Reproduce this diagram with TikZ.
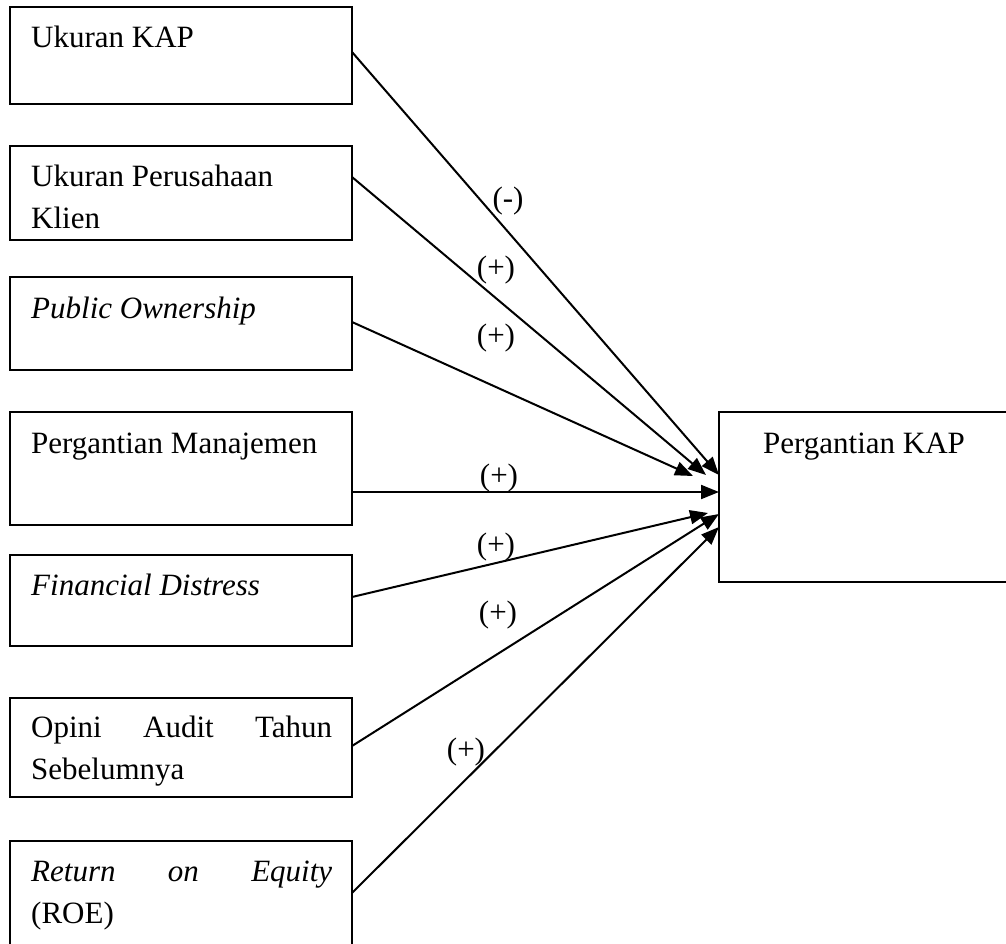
\documentclass[tikz,border=0pt]{standalone}
\usepackage{fontspec}
\setmainfont{Liberation Serif}
\usetikzlibrary{arrows.meta}
\begin{document}
\begin{tikzpicture}[x=1pt,y=-1pt,
  box/.style={draw, line width=2pt, inner sep=0pt, outer sep=0pt, anchor=north west},
  lbl/.style={inner sep=0pt, font=\fontsize{31}{42}\selectfont, anchor=base west},
  sign/.style={inner sep=0pt, font=\fontsize{31}{42}\selectfont, anchor=center},
  arr/.style={line width=2pt, -{Triangle[length=18pt,width=14pt]}}]
\useasboundingbox (0,0) rectangle (1006,944);
\clip (0,0) rectangle (1006,944);
% boxes
\node[box, minimum width=342pt, minimum height=97pt]  (b1) at (10,7) {};
\node[box, minimum width=342pt, minimum height=94pt]  (b2) at (10,146) {};
\node[box, minimum width=342pt, minimum height=93pt]  (b3) at (10,277) {};
\node[box, minimum width=342pt, minimum height=113pt] (b4) at (10,412) {};
\node[box, minimum width=342pt, minimum height=91pt]  (b5) at (10,555) {};
\node[box, minimum width=342pt, minimum height=99pt]  (b6) at (10,698) {};
\node[box, minimum width=342pt, minimum height=120pt] (b7) at (10,841) {};
\node[box, minimum width=300pt, minimum height=170pt] (r) at (719,412) {};
% texts
\node[lbl] (t1) at (31,48) {Ukuran KAP};
\node[lbl] (t2a) at (31,186) {Ukuran Perusahaan};
\node[lbl] (t2b) at (31,228) {Klien};
\node[lbl] (t3) at (31,318) {\itshape Public Ownership};
\node[lbl] (t4) at (31,453) {Pergantian Manajemen};
\node[lbl] (t5) at (31,595) {\itshape Financial Distress};
\node[lbl] (t6a) at (31,737) {\makebox[301pt][s]{Opini Audit Tahun}};
\node[lbl] (t6b) at (31,779) {Sebelumnya};
\node[lbl] (t7a) at (31,881) {\makebox[301pt][s]{\itshape Return on Equity}};
\node[lbl] (t7b) at (31,923) {(ROE)};
\node[lbl] (tr) at (763,453) {Pergantian KAP};
% connector ends
\coordinate (s1) at (352,52);
\coordinate (s2) at (352,177);
\coordinate (s3) at (352,322);
\coordinate (s4) at (352,492);
\coordinate (s5) at (352,597);
\coordinate (s6) at (352,746);
\coordinate (s7) at (352,893);
\coordinate (e1) at (719,475);
\coordinate (e2) at (706,475);
\coordinate (e3) at (693,476);
\coordinate (e4) at (719,492);
\coordinate (e5) at (708,513);
\coordinate (e6) at (719,514);
\coordinate (e7) at (719,527);
\draw[arr] (s1) -- (e1);
\draw[arr] (s2) -- (e2);
\draw[arr] (s3) -- (e3);
\draw[arr] (s4) -- (e4);
\draw[arr] (s5) -- (e5);
\draw[arr] (s6) -- (e6);
\draw[arr] (s7) -- (e7);
% signs
\node[sign] (p1) at (508,201) {(-)};
\node[sign] (p2) at (496,270) {(+)};
\node[sign] (p3) at (496,338) {(+)};
\node[sign] (p4) at (499,478) {(+)};
\node[sign] (p5) at (496,547) {(+)};
\node[sign] (p6) at (498,615) {(+)};
\node[sign] (p7) at (466,752) {(+)};
\end{tikzpicture}
\end{document}
